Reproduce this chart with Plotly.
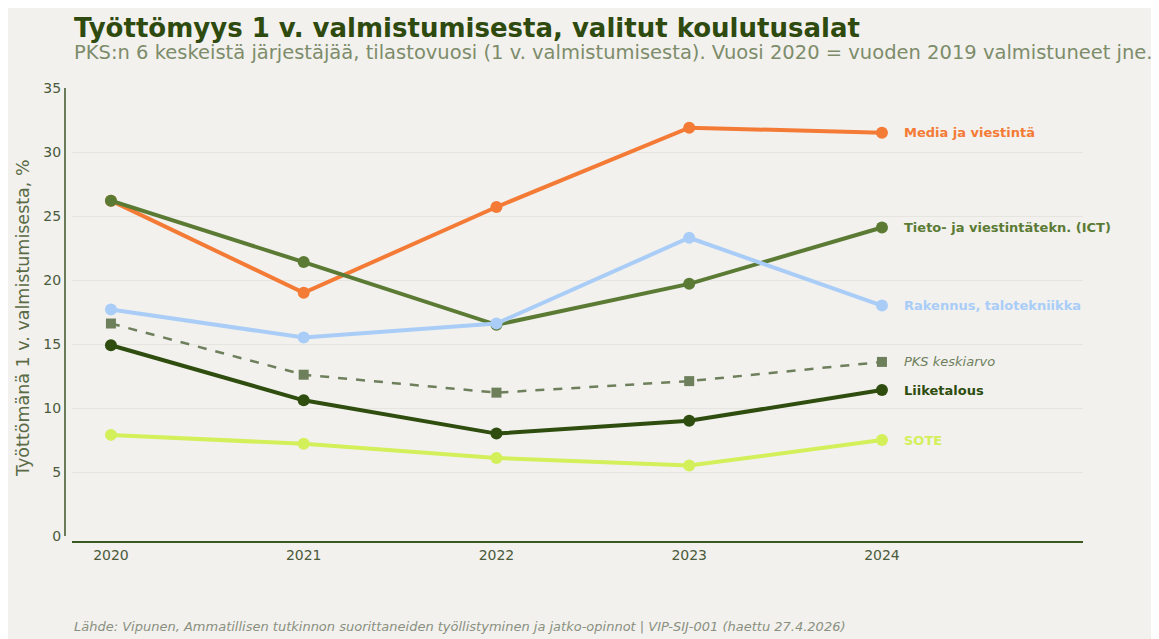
import plotly.graph_objects as go

years = [2020, 2021, 2022, 2023, 2024]
series_names = ["Media ja viestintä", "Tieto- ja viestintätekn. (ICT)", "Rakennus, talotekniikka",
                "PKS keskiarvo", "Liiketalous", "SOTE"]
media = [26.2, 19.0, 25.7, 31.9, 31.5]
ict = [26.2, 21.4, 16.5, 19.7, 24.1]
rakennus = [17.7, 15.5, 16.6, 23.3, 18.0]
pks = [16.6, 12.6, 11.2, 12.1, 13.6]
liike = [14.9, 10.6, 8.0, 9.0, 11.4]
sote = [7.9, 7.2, 6.1, 5.5, 7.5]
y_ticks = [0, 5, 10, 15, 20, 25, 30, 35]

colors = ["#f47b35", "#5b7b35", "#a9cdf7", "#6e7f5c", "#2e4d0f", "#d3ef5a"]
values = [media, ict, rakennus, pks, liike, sote]

FONT = "DejaVu Sans"
fig = go.Figure()
for name, vals, col in zip(series_names, values, colors):
    is_avg = name == "PKS keskiarvo"
    fig.add_trace(go.Scatter(
        x=years, y=vals, name=name, mode="lines+markers",
        line=dict(color=col, width=2.5 if is_avg else 4, dash="dash" if is_avg else "solid"),
        marker=dict(color=col, size=10 if is_avg else 12, symbol="square" if is_avg else "circle"),
        showlegend=False,
    ))
    fig.add_annotation(
        x=years[-1], y=vals[-1], xref="x", yref="y",
        text=f"<i>{name}</i>" if is_avg else f"<b>{name}</b>",
        showarrow=False, xanchor="left", yanchor="middle", xshift=20,
        font=dict(family=FONT, size=13, color=col),
    )

W, H = 1159, 639
L, R, T, B = 57, 84, 80, 105
pw, ph = W - L - R, H - T - B

def px(xp):
    return (xp - 8 - L) / pw

def py(yp):
    return (H - B - (yp - 8)) / ph

fig.add_annotation(x=px(72), y=py(28), xref="paper", yref="paper", xanchor="left", yanchor="middle",
                   text="<b>Työttömyys 1 v. valmistumisesta, valitut koulutusalat</b>", showarrow=False,
                   font=dict(family=FONT, size=26, color="#2e4a0e"))
fig.add_annotation(x=px(72), y=py(53), xref="paper", yref="paper", xanchor="left", yanchor="middle",
                   text="PKS:n 6 keskeistä järjestäjää, tilastovuosi (1 v. valmistumisesta). Vuosi 2020 = vuoden 2019 valmistuneet jne.",
                   showarrow=False, font=dict(family=FONT, size=19.5, color="#7d8c6a"))
fig.add_annotation(x=px(72), y=py(626), xref="paper", yref="paper", xanchor="left", yanchor="middle",
                   text="<i>Lähde: Vipunen, Ammatillisen tutkinnon suorittaneiden työllistyminen ja jatko-opinnot | VIP-SIJ-001 (haettu 27.4.2026)</i>",
                   showarrow=False, font=dict(family=FONT, size=13, color="#8a9080"))
fig.add_annotation(x=px(23), y=py(318), xref="paper", yref="paper", xanchor="center", yanchor="middle",
                   text="Työttömänä 1 v. valmistumisesta, %", textangle=-90,
                   showarrow=False, font=dict(family=FONT, size=17.5, color="#5a6b45"))

fig.update_layout(
    width=W, height=H,
    margin=dict(l=L, r=R, t=T, b=B),
    paper_bgcolor="#f2f1ee", plot_bgcolor="#f2f1ee",
    font=dict(family=FONT, size=14, color="#4a5a3a"),
    xaxis=dict(
        domain=[7 / pw, 1], range=[2019.798, 2025.043], anchor="free", position=0,
        tickmode="array", tickvals=years, ticktext=[str(y) for y in years],
        showgrid=False, zeroline=False, showline=True, linecolor="#3b5a1f", linewidth=2,
        ticks="", tickfont=dict(family=FONT, size=14, color="#4a5a3a"),
    ),
    yaxis=dict(
        domain=[6 / ph, 1], range=[0, 35], anchor="free", position=0,
        tickmode="array", tickvals=y_ticks,
        showgrid=True, gridcolor="#e6e4df", gridwidth=1, zeroline=False,
        showline=True, linecolor="#6b7b5a", linewidth=2, ticks="",
        tickfont=dict(family=FONT, size=14, color="#4a5a3a"),
    ),
)

fig.write_html("out.html")
